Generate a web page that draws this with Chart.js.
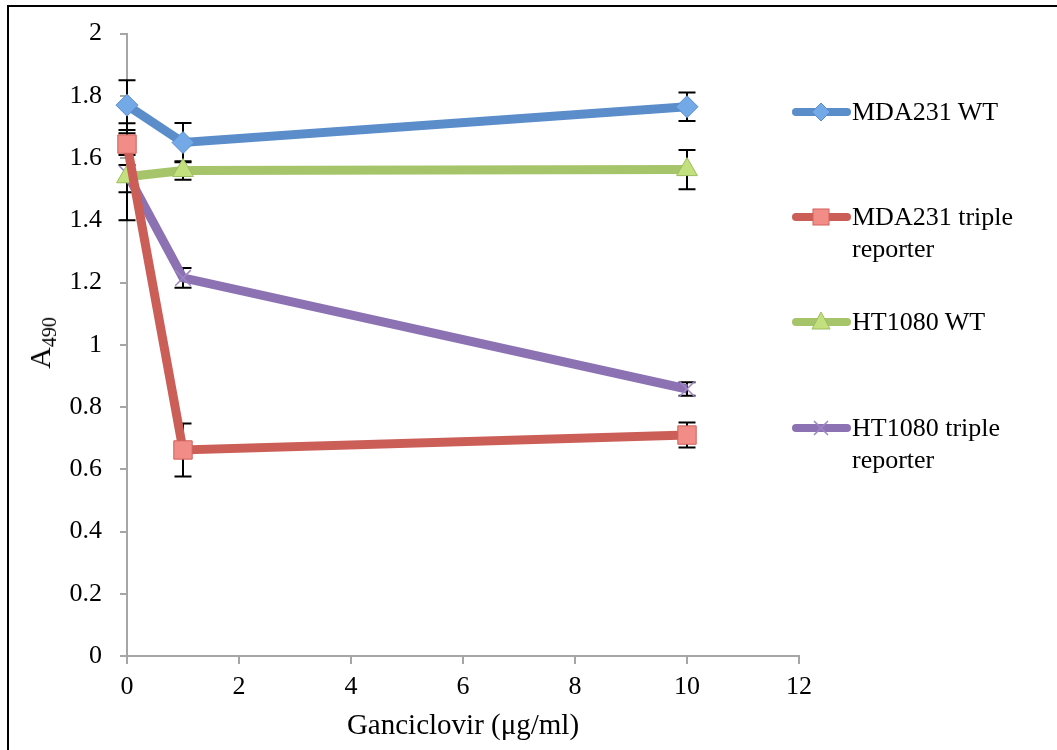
<!DOCTYPE html>
<html>
<head>
<meta charset="utf-8">
<script src="https://cdn.jsdelivr.net/npm/chart.js@4.4.1/dist/chart.umd.min.js"></script>
<style>
  html, body { margin: 0; padding: 0; background: #fff; }
  #wrap { position: relative; width: 1057px; height: 750px; overflow: hidden; }
  #frame { position: absolute; left: 7px; top: 5px; width: 1200px; height: 900px;
           border-top: 2px solid #000; border-left: 2px solid #000; }
  canvas { position: absolute; left: 0; top: 0; }
  #ytitle { position: absolute; left: 42px; top: 343px; transform: translate(-50%, -50%) rotate(-90deg);
            font-family: "Liberation Serif", serif; font-size: 30px; white-space: nowrap; color: #000; }
  #ytitle sub { font-size: 20px; vertical-align: -6px; }
  .item { position: absolute; left: 791px; }
  .item svg { position: absolute; left: 0; }
  .item span { position: absolute; left: 61px; top: 0; width: 200px;
               font-family: "Liberation Serif", serif; font-size: 26px; line-height: 32px; color: #000; }
</style>
</head>
<body>
<div id="wrap">
  <div id="frame"></div>
  <canvas id="gcvChart" width="1057" height="750"></canvas>
  <div id="ytitle">A<sub>490</sub></div>
  <div id="legend"></div>
</div>
<script>
const doses = [0, 1, 10];

const seriesNames = ["MDA231 WT", "MDA231 triple reporter", "HT1080 WT", "HT1080 triple reporter"];

const mdaWT = [1.77, 1.65, 1.765];
const mdaWTErr = [0.08, 0.063, 0.046];

const mdaTriple = [1.645, 0.662, 0.71];
const mdaTripleErr = [0.067, 0.085, 0.04];

const htWT = [1.54, 1.56, 1.563];
const htWTErr = [0.14, 0.03, 0.063];

const htTriple = [1.55, 1.215, 0.858];
const htTripleErr = [0.06, 0.032, 0.022];

const xTicks = [0, 2, 4, 6, 8, 10, 12];
const yTicks = [0, 0.2, 0.4, 0.6, 0.8, 1, 1.2, 1.4, 1.6, 1.8, 2];

const styles = [
    { line: "#5A8DCA", fill: "#74A9E8", border: "#5A8DCA", shape: "rectRot", r: 11 },
    { line: "#CB5E57", fill: "#F18C86", border: "#D0625B", shape: "rect", r: 13 },
    { line: "#A6C46A", fill: "#C3E07F", border: "#9DBD5E", shape: "triangle", r: 12 },
    { line: "#8C72B2", fill: "#9C86C2", border: "#9C86C2", shape: "crossRot", r: 11 }
];

function toPoints(values) {
    return doses.map((d, i) => ({ x: d, y: values[i] }));
}

const allValues = [mdaWT, mdaTriple, htWT, htTriple];
const allErrors = [mdaWTErr, mdaTripleErr, htWTErr, htTripleErr];

const errorBars = {
    id: "errorBars",
    beforeDatasetsDraw(chart) {
        const ctx = chart.ctx;
        const xs = chart.scales.x;
        const ys = chart.scales.y;
        ctx.save();
        ctx.strokeStyle = "#000";
        ctx.lineWidth = 2;
        allValues.forEach((vals, s) => {
            vals.forEach((v, i) => {
                const px = xs.getPixelForValue(doses[i]);
                const top = ys.getPixelForValue(v + allErrors[s][i]);
                const bot = ys.getPixelForValue(v - allErrors[s][i]);
                ctx.beginPath();
                ctx.moveTo(px, top); ctx.lineTo(px, bot);
                ctx.moveTo(px - 8.5, top); ctx.lineTo(px + 8.5, top);
                ctx.moveTo(px - 8.5, bot); ctx.lineTo(px + 8.5, bot);
                ctx.stroke();
            });
        });
        ctx.restore();
    }
};

const datasets = allValues.map((vals, s) => ({
    label: seriesNames[s],
    data: toPoints(vals),
    borderColor: styles[s].line,
    borderWidth: 9,
    pointStyle: styles[s].shape,
    pointRadius: styles[s].r,
    pointBackgroundColor: styles[s].fill,
    pointBorderColor: styles[s].border,
    pointBorderWidth: s === 3 ? 1.5 : 1,
    clip: false,
    tension: 0
}));

new Chart(document.getElementById("gcvChart"), {
    type: "line",
    data: { datasets: datasets },
    options: {
        responsive: false,
        animation: false,
        layout: { padding: { left: 0, top: 25, right: 258, bottom: 0 } },
        plugins: { legend: { display: false }, tooltip: { enabled: false } },
        scales: {
            x: {
                type: "linear",
                min: 0, max: 12,
                afterFit(scale) { scale.height = 94; },
                afterBuildTicks(scale) { scale.ticks = xTicks.map(v => ({ value: v })); },
                ticks: { color: "#000", padding: 8, font: { family: "Liberation Serif", size: 26 } },
                grid: { drawOnChartArea: false, drawTicks: true, tickLength: 8, color: "#A6A6A6", lineWidth: 2 },
                border: { color: "#A6A6A6", width: 2 },
                title: {
                    display: true, text: "Ganciclovir (μg/ml)", color: "#000",
                    font: { family: "Liberation Serif", size: 29 }, padding: { top: 0, bottom: 6 }
                }
            },
            y: {
                min: 0, max: 2,
                afterFit(scale) { scale.width = 127; },
                afterBuildTicks(scale) { scale.ticks = yTicks.map(v => ({ value: v })); },
                ticks: {
                    color: "#000", padding: 18, font: { family: "Liberation Serif", size: 26 },
                    callback: v => String(Number(v.toFixed(1)))
                },
                grid: { drawOnChartArea: false, drawTicks: true, tickLength: 7, color: "#A6A6A6", lineWidth: 2 },
                border: { color: "#A6A6A6", width: 2 }
            }
        }
    },
    plugins: [errorBars]
});

// legend built as html so the two-line labels wrap like the original
const legendTops = [112, 217, 322, 428];
const legendLines = [["MDA231 WT"], ["MDA231 triple", "reporter"], ["HT1080 WT"], ["HT1080 triple", "reporter"]];

function markerSvg(st) {
    const c = 30, m = 11;
    if (st.shape === "rectRot") {
        return `<polygon points="${c},${m - 9} ${c + 9},${m} ${c},${m + 9} ${c - 9},${m}" fill="${st.fill}" stroke="${st.border}"/>`;
    }
    if (st.shape === "rect") {
        return `<rect x="${c - 8}" y="${m - 8}" width="16" height="16" fill="${st.fill}" stroke="${st.border}"/>`;
    }
    if (st.shape === "triangle") {
        return `<polygon points="${c},${m - 10} ${c + 9},${m + 7} ${c - 9},${m + 7}" fill="${st.fill}" stroke="${st.border}"/>`;
    }
    return `<path d="M${c - 7},${m - 7}L${c + 7},${m + 7}M${c + 7},${m - 7}L${c - 7},${m + 7}" stroke="${st.border}" stroke-width="1.5"/>`;
}

const legendBox = document.getElementById("legend");
legendLines.forEach((lines, s) => {
    const st = styles[s];
    const item = document.createElement("div");
    item.className = "item";
    item.style.top = (legendTops[s] - 16) + "px";
    item.innerHTML =
        `<svg width="62" height="22" style="top:5px">` +
        `<line x1="5" y1="11" x2="56" y2="11" stroke="${st.line}" stroke-width="8" stroke-linecap="round"/>` +
        markerSvg(st) + `</svg>` +
        `<span>${lines.join("<br>")}</span>`;
    legendBox.appendChild(item);
});
</script>
</body>
</html>
